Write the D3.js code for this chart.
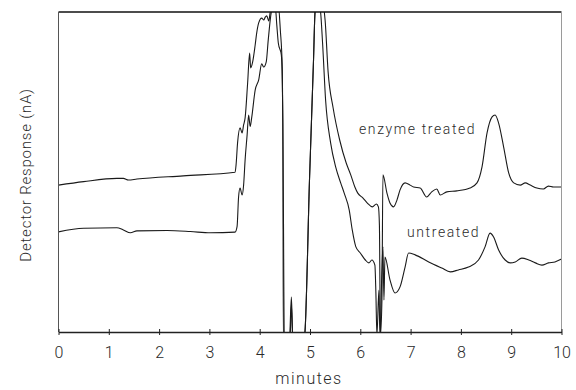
<!DOCTYPE html>
<html>
<head>
<meta charset="utf-8">
<script src="https://cdn.jsdelivr.net/npm/d3@7"></script>
<style>
  html, body { margin: 0; padding: 0; background: #fff; }
  svg { display: block; }
  text { font-family: "Roboto", "Open Sans", "DejaVu Sans", sans-serif; font-weight: 300; fill: #2a2a2a; }
</style>
</head>
<body>
<svg id="chart" width="576" height="390"></svg>
<script>
// ---- data (x in minutes, y in relative detector response units) ----
const xTicks = [0,1,2,3,4,5,6,7,8,9,10];
const seriesNames = ["enzyme treated", "untreated"];

const enzymeX = [0.00,0.50,1.16,1.29,1.39,1.56,2.48,3.51,3.53,3.56,3.61,3.65,3.68,3.71,3.76,3.80,3.82,3.86,3.91,3.94,3.98,4.04,4.08,4.11,4.14,4.18,4.21,4.25,4.31,4.34,4.37,4.43,4.46,4.47,4.59,4.63,4.66,4.87,4.90,4.99,5.07,5.10,5.12,5.26,5.30,5.36,5.46,5.59,5.72,5.81,5.89,5.95,6.05,6.14,6.24,6.32,6.36,6.38,6.40,6.43,6.45,6.53,6.59,6.66,6.73,6.79,6.89,6.99,7.06,7.19,7.32,7.42,7.52,7.59,7.72,7.92,8.18,8.32,8.42,8.52,8.62,8.68,8.75,8.85,8.95,9.05,9.18,9.28,9.38,9.51,9.64,9.74,9.84,10.0];
const enzymeY = [45.9,47.0,48.0,48.0,47.5,47.8,48.8,49.9,52.2,59.1,63.8,62.2,64.7,66.9,77.8,87.2,82.5,84.4,89.7,93.4,96.6,98.1,97.5,98.4,98.8,97.2,100,101.5,101.5,95.9,90.3,86.6,66,-3,-3,10.9,-3,-3,0,47.5,85,100,102,102,97.5,81.3,70,60,52.8,49.1,45.4,43.4,41.9,40.3,39.1,40.0,39.1,33.4,-1,10,49.1,43.4,40.3,39.1,41.3,44.4,46.6,45.9,45.3,45.0,42.2,43.8,44.7,42.8,43.8,44.1,45.0,46.6,51.6,62.2,67.2,67.8,65.3,57.8,49.7,46.6,45.9,46.6,45.9,45.0,44.7,45.6,45.3,45.3];

const untreatedX = [0.00,0.50,1.16,1.29,1.43,1.56,2.16,2.62,3.02,3.51,3.55,3.58,3.61,3.65,3.68,3.71,3.75,3.78,3.81,3.84,3.91,3.98,4.04,4.08,4.13,4.17,4.24,4.31,4.37,4.41,4.45,4.47,4.49,4.60,4.63,4.66,4.87,4.90,4.99,5.07,5.10,5.12,5.18,5.21,5.25,5.31,5.41,5.51,5.61,5.68,5.78,5.84,5.91,6.00,6.10,6.17,6.23,6.29,6.31,6.33,6.37,6.39,6.43,6.45,6.47,6.49,6.59,6.69,6.79,6.89,6.96,7.09,7.36,7.62,7.79,7.95,8.15,8.35,8.48,8.58,8.65,8.75,8.88,8.98,9.08,9.21,9.35,9.48,9.61,9.74,9.87,10.0];
const untreatedY = [31.3,32.4,32.6,31.9,31.0,31.6,31.7,31.4,31.0,31.2,32.9,42.2,45.0,42.8,45.9,53.8,61.6,67.8,64.2,66.9,75.6,78.8,83.8,82.8,84.4,91.3,100.6,102,102,94.4,81.9,41,-3,-3,8.4,-3,-3,0,47.5,85,100,102,102,100,90.3,72.5,59.1,51.6,46.6,43.4,38.1,31.9,26.7,24.7,22.5,21.6,22.5,20.9,12.2,-1,13,-1,19.4,26.6,10,23.4,16.3,12.2,14.1,20.3,24.7,24.1,21.9,20.0,18.8,19.4,20.3,22.5,26.6,30.9,29.7,25.6,22.5,21.6,21.9,23.1,22.5,21.6,20.9,21.6,21.9,22.8];

// ---- layout ----
const svg = d3.select("#chart");
const pLeft = 58.5, pRight = 561.5, pTop = 12, pBottom = 332;

const x = d3.scaleLinear().domain([0, 10]).range([pLeft, pRight]);
const y = d3.scaleLinear().domain([0, 100]).range([pBottom, pTop]);

svg.append("defs").append("clipPath").attr("id", "plotclip")
  .append("rect").attr("x", pLeft).attr("y", pTop).attr("width", pRight - pLeft).attr("height", pBottom - pTop);

const line = d3.line()
  .x(d => x(d[0]))
  .y(d => y(d[1]))
  .curve(d3.curveMonotoneX);

const enzyme = enzymeX.map((v, i) => [v, enzymeY[i]]);
const untreated = untreatedX.map((v, i) => [v, untreatedY[i]]);

const g = svg.append("g").attr("clip-path", "url(#plotclip)");
[enzyme, untreated].forEach(s => {
  g.append("path").datum(s)
    .attr("d", line)
    .attr("fill", "none")
    .attr("stroke", "#1a1a1a")
    .attr("stroke-width", 1.1)
    .attr("stroke-linejoin", "round");
});

// frame
svg.append("line").attr("x1", pLeft).attr("x2", pRight).attr("y1", pTop).attr("y2", pTop)
  .attr("stroke", "#111").attr("stroke-width", 1.6);
svg.append("line").attr("x1", pRight).attr("x2", pRight).attr("y1", pTop).attr("y2", pBottom)
  .attr("stroke", "#9a9a9a").attr("stroke-width", 1);
svg.append("line").attr("x1", pLeft).attr("x2", pLeft).attr("y1", pTop).attr("y2", pBottom)
  .attr("stroke", "#555").attr("stroke-width", 1);

// x axis
const xAxis = d3.axisBottom(x).tickValues(xTicks).tickFormat(d3.format("d")).tickSize(0).tickPadding(0);
const ax = svg.append("g").attr("transform", `translate(0,${pBottom})`).call(xAxis);
ax.select(".domain").attr("stroke", "#222").attr("stroke-width", 1.6);
ax.selectAll(".tick line").attr("y1", -3).attr("y2", 3).attr("stroke", "#222").attr("stroke-width", 1);
ax.selectAll(".tick text")
  .attr("y", 26).attr("dy", null)
  .style("font-size", "16px").style("font-family", "Roboto, sans-serif").style("font-weight", 300).attr("fill", "#2a2a2a");

// axis titles
svg.append("text").attr("x", (pLeft + pRight) / 2 - 1).attr("y", 384)
  .attr("text-anchor", "middle").style("font-size", "16px").style("letter-spacing", "1.5px")
  .text("minutes");
svg.append("text").attr("transform", `translate(31,${(pTop + pBottom) / 2 + 3}) rotate(-90)`)
  .attr("text-anchor", "middle").style("font-size", "15px").style("letter-spacing", "0.8px")
  .text("Detector Response (nA)");

// series labels
svg.append("text").attr("x", 359).attr("y", 134).style("font-size", "14px").style("letter-spacing", "1.6px")
  .text(seriesNames[0]);
svg.append("text").attr("x", 407).attr("y", 237).style("font-size", "14px").style("letter-spacing", "1.6px")
  .text(seriesNames[1]);
</script>
</body>
</html>
